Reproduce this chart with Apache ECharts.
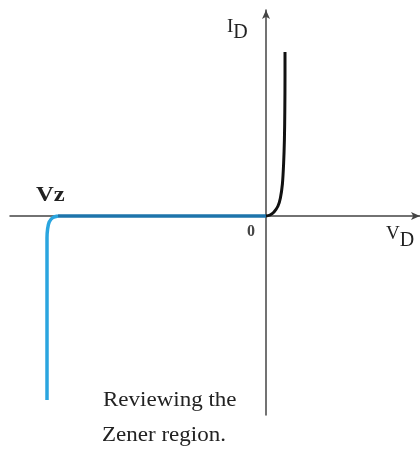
<!DOCTYPE html>
<html><head><meta charset="utf-8">
<script src="https://cdn.jsdelivr.net/npm/echarts@6/dist/echarts.min.js"></script>
<style>html,body{margin:0;padding:0;background:#fff}#c{width:420px;height:451px}</style>
</head><body><div id="c"></div>
<script>
// Forward-bias curve (V, I)
const forwardV = [0, 0.1, 0.2, 0.3, 0.36, 0.41, 0.44, 0.46, 0.47, 0.475, 0.475];
const forwardI = [0, 0.05, 0.2, 0.5, 0.9, 1.6, 2.6, 3.8, 5.2, 7.0, 8.2];
// Reverse-bias leakage (flat) region
const leakV = [0, -5.2];
const leakI = [0, 0];
// Zener breakdown region
const zenerV = [-5.2, -5.33, -5.42, -5.46, -5.475, -5.475];
const zenerI = [0, -0.08, -0.3, -0.65, -1.1, -9.2];
const labels = { vz: 'Vz', origin: '0', iAxis: 'I', vAxis: 'V', sub: 'D' };
const caption = ['Reviewing the', 'Zener region.'];

const zip = (a, b) => a.map((v, i) => [v, b[i]]);
const chart = echarts.init(document.getElementById('c'));
const serif = '"Liberation Serif", "DejaVu Serif", serif';
chart.setOption({
  animation: false,
  grid: { left: 10, right: 0, top: 10, bottom: 36 },
  xAxis: {
    type: 'value', min: -6.4, max: 3.85,
    axisLine: { onZero: true, lineStyle: { color: '#444', width: 1.5 }, symbol: ['none', 'arrow'], symbolSize: [6, 9] },
    axisTick: { show: false }, axisLabel: { show: false }, splitLine: { show: false }
  },
  yAxis: {
    type: 'value', min: -9.95, max: 10.3,
    axisLine: { onZero: true, lineStyle: { color: '#444', width: 1.5 }, symbol: ['none', 'arrow'], symbolSize: [6, 9] },
    axisTick: { show: false }, axisLabel: { show: false }, splitLine: { show: false }
  },
  series: [
    { type: 'line', data: zip(leakV, leakI), showSymbol: false, lineStyle: { color: '#1d74ab', width: 3.5 } },
    { type: 'line', data: zip(zenerV, zenerI), showSymbol: false, smooth: 0.3, lineStyle: { color: '#2aa5df', width: 3.5 } },
    { type: 'line', data: zip(forwardV, forwardI), showSymbol: false, smooth: 0.3, lineStyle: { color: '#111', width: 3 } }
  ],
  graphic: [
    { type: 'text', left: 227, top: 18, style: { text: labels.iAxis + '{s|' + labels.sub + '}', font: '19px ' + serif, fill: '#222',
      rich: { s: { fontSize: 20, fontFamily: serif, padding: [11, 0, 0, 0], fill: '#222' } } } },
    { type: 'text', left: 36, top: 184, scaleX: 1.12, style: { text: labels.vz, font: 'bold 22px ' + serif, fill: '#222' } },
    { type: 'text', left: 247, top: 224, style: { text: labels.origin, font: 'bold 16px ' + serif, fill: '#444' } },
    { type: 'text', left: 386, top: 225, style: { text: labels.vAxis + '{s|' + labels.sub + '}', font: '19px ' + serif, fill: '#222',
      rich: { s: { fontSize: 20, fontFamily: serif, padding: [13, 0, 0, 0], fill: '#222' } } } },
    { type: 'text', left: 103, top: 391, scaleX: 1.15, style: { text: caption[0], font: '20px ' + serif, fill: '#222' } },
    { type: 'text', left: 102, top: 426, scaleX: 1.15, style: { text: caption[1], font: '20px ' + serif, fill: '#222' } }
  ]
});
</script></body></html>
